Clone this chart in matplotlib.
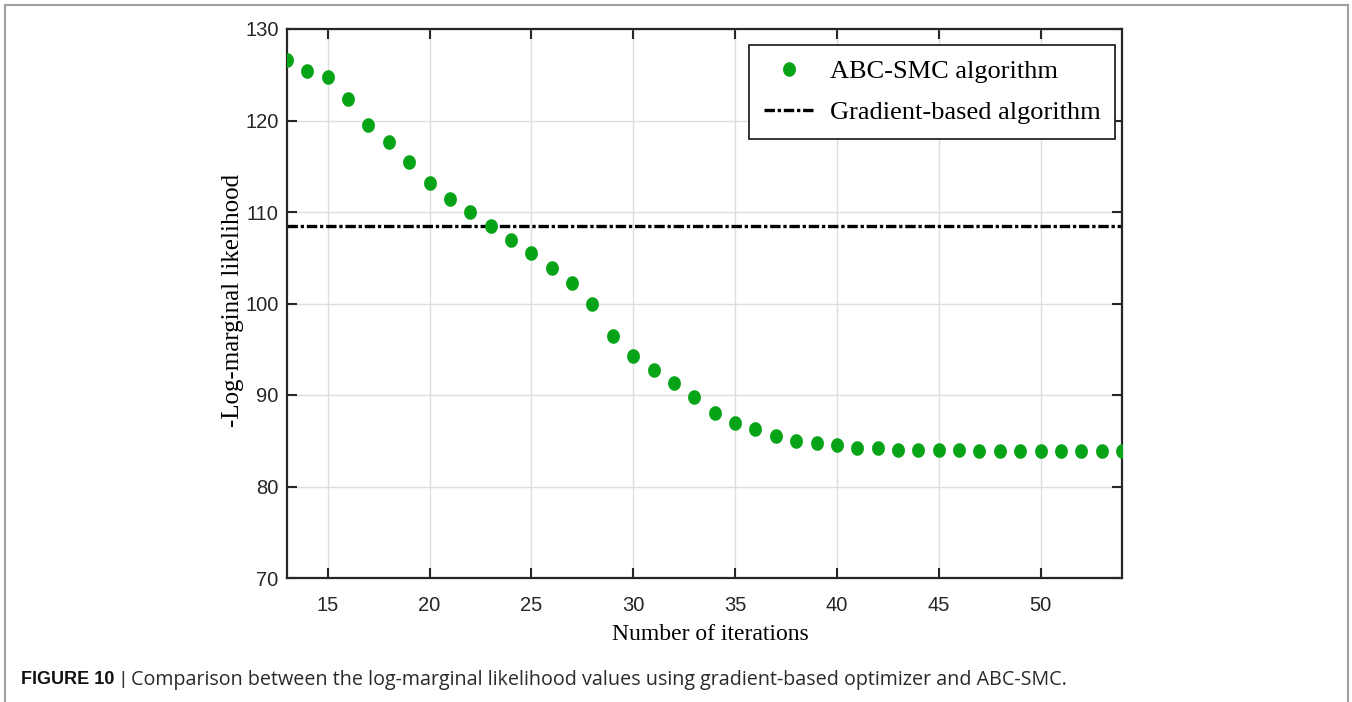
import numpy as np
import matplotlib
matplotlib.use("Agg")
import matplotlib.pyplot as plt
from matplotlib.path import Path
from matplotlib.lines import Line2D

# ABC-SMC iterations and the resulting -log-marginal likelihood
iterations = list(range(13, 55))
abc_smc = [126.6, 125.4, 124.7, 122.4, 119.5, 117.7, 115.5, 113.2, 111.4, 110.0,
           108.5, 106.9, 105.5, 103.9, 102.2, 99.9, 96.4, 94.3, 92.7, 91.35,
           89.8, 88.0, 86.9, 86.3, 85.5, 85.0, 84.7, 84.5, 84.2, 84.2,
           84.0, 84.0, 84.0, 84.0, 83.85, 83.85, 83.85, 83.85, 83.85, 83.85,
           83.85, 83.85]
# value reached by the gradient-based optimizer
gradient_value = 108.5

x_ticks = [15, 20, 25, 30, 35, 40, 45, 50]
y_ticks = [70, 80, 90, 100, 110, 120, 130]

sans = "Liberation Sans"
serif = "Liberation Serif"
GREEN = "#08a418"
DARK = "#262626"

# slightly tall ellipse marker
t = np.linspace(0, 2 * np.pi, 60)
ellipse = Path(np.column_stack([0.88 * np.cos(t), np.sin(t)]), closed=True)

plt.rcParams["lines.scale_dashes"] = False

fig = plt.figure(figsize=(13.52, 7.02), dpi=100)
ax = fig.add_axes([287 / 1352, 1 - 578 / 702, (1122 - 287) / 1352, (578 - 29) / 702])

ax.grid(True, color="#dedede", linewidth=1.0)
ax.set_axisbelow(True)

ax.plot(iterations, abc_smc, linestyle="none", marker=ellipse, markersize=10.5,
        color=GREEN, markeredgewidth=0, label="ABC-SMC algorithm", zorder=3)
ax.plot([iterations[0], iterations[-1]], [gradient_value, gradient_value],
        color="black", linewidth=2.4, dashes=(7.5, 2.0, 2.4, 2.0),
        dash_capstyle="butt", label="Gradient-based algorithm", zorder=2)

ax.set_xlim(13, 54)
ax.set_ylim(70, 130)
ax.set_xticks(x_ticks)
ax.set_yticks(y_ticks)
ax.tick_params(direction="in", length=7, width=1.5, top=True, right=True,
               labelsize=14.5, colors=DARK)
ax.tick_params(axis="x", pad=13)
ax.tick_params(axis="y", pad=6)
for lab in ax.get_xticklabels() + ax.get_yticklabels():
    lab.set_fontfamily(sans)
for s in ax.spines.values():
    s.set_linewidth(1.6)
    s.set_color(DARK)

ax.set_xlabel("Number of iterations", fontfamily=serif, fontsize=17, va="center")
ax.xaxis.set_label_coords((710 - 287) / 835, (578 - 634) / 549)
ax.set_ylabel("-Log-marginal likelihood", fontfamily=serif, fontsize=18,
              va="center", ha="center")
ax.yaxis.set_label_coords((233 - 287) / 835, (578 - 300) / 549)

leg = ax.legend(loc="upper right", bbox_to_anchor=(1115 / 1352, 1 - 45 / 702),
                bbox_transform=fig.transFigure, prop={"family": serif, "size": 19},
                frameon=True, fancybox=False, edgecolor=DARK, framealpha=1,
                borderpad=0.55, labelspacing=0.68, handlelength=1.9,
                handletextpad=0.6, borderaxespad=0)
leg.get_frame().set_linewidth(1.3)

# caption
fig.text(21 / 1352, 1 - 680 / 702, "FIGURE 10", fontfamily=sans,
         fontweight="bold", fontsize=13, va="center", ha="left", color="#111111")
fig.text(120 / 1352, 1 - 680 / 702, "|", fontfamily=sans, fontsize=13,
         va="center", ha="left", color="#333333")
fig.text(131 / 1352, 1 - 680 / 702,
         "Comparison between the log-marginal likelihood values using gradient-based optimizer and ABC-SMC.",
         fontfamily="Open Sans", fontsize=14.2, va="center", ha="left", color="#2a2a2a")

# outer frame (open at the bottom)
fc = "#a0a0a0"
fig.add_artist(Line2D([5 / 1352, 5 / 1352], [0, 1 - 5 / 702], transform=fig.transFigure, color=fc, lw=1.5))
fig.add_artist(Line2D([5 / 1352, 1348 / 1352], [1 - 5 / 702, 1 - 5 / 702], transform=fig.transFigure, color=fc, lw=1.5))
fig.add_artist(Line2D([1348 / 1352, 1348 / 1352], [0, 1 - 5 / 702], transform=fig.transFigure, color=fc, lw=1.5))

fig.savefig("out.png", dpi=100, facecolor="white")
